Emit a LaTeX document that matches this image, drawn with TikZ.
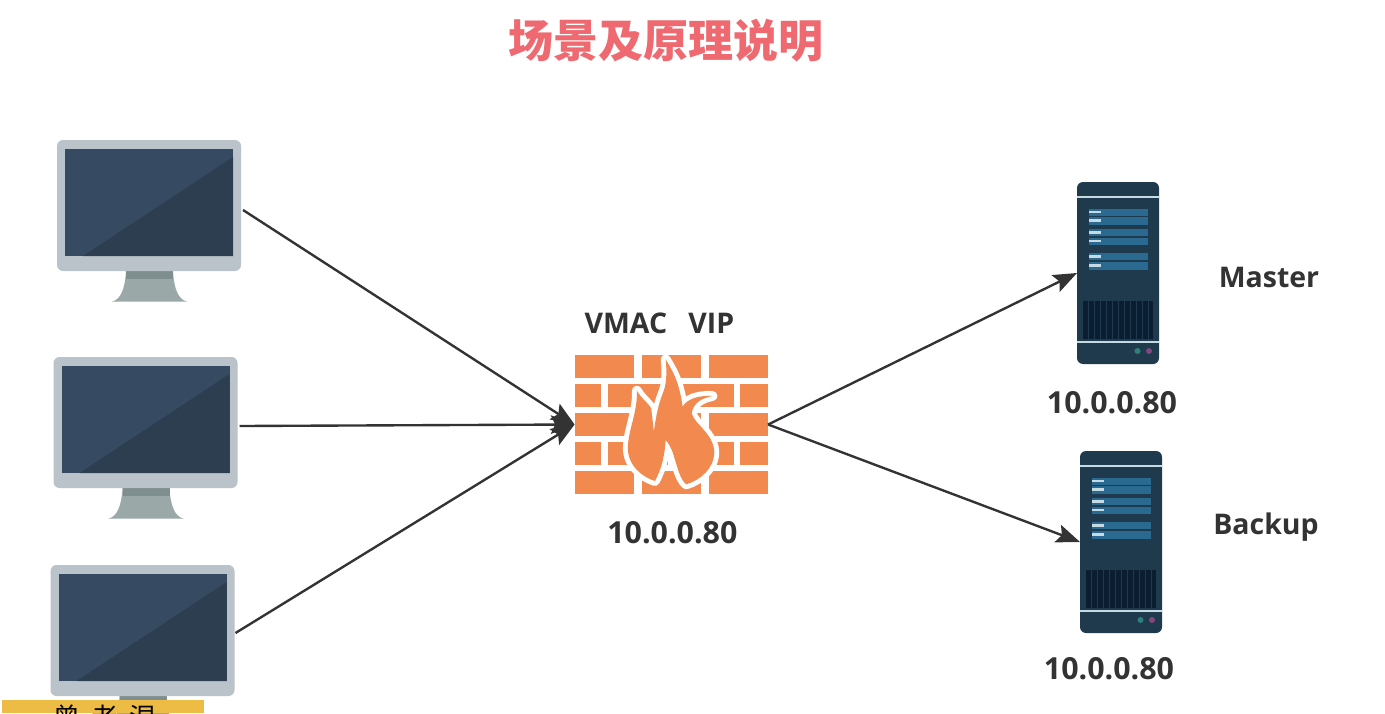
\documentclass[tikz,border=0pt]{standalone}
\usepackage{fontspec}
\setmainfont{Open Sans}
\newfontfamily\cjk{Noto Sans CJK SC}
\usetikzlibrary{arrows.meta}

\def\px{0.02cm}

\definecolor{bezelgray}{HTML}{B9C3C9}
\definecolor{screenlight}{HTML}{364B61}
\definecolor{screendark}{HTML}{2D3E50}
\definecolor{standgray}{HTML}{9AA8A8}
\definecolor{neckgray}{HTML}{7F8E8E}
\definecolor{serverbody}{HTML}{1F3A4D}
\definecolor{serverbar}{HTML}{2A6A90}
\definecolor{serverline}{HTML}{C6DAE4}
\definecolor{servervent}{HTML}{0B1D30}
\definecolor{ledteal}{HTML}{2F7F80}
\definecolor{ledpurple}{HTML}{84467F}
\definecolor{brickorange}{HTML}{F2894F}
\definecolor{titlered}{HTML}{EE6A70}
\definecolor{bannergold}{HTML}{EDBC45}
\definecolor{inkgray}{HTML}{333333}

\tikzset{
bezel/.style={fill=bezelgray,rounded corners=6*\px,inner sep=0pt,outer sep=0pt,minimum width=184*\px,minimum height=131*\px},
rackbody/.style={fill=serverbody,rounded corners=6*\px,inner sep=0pt,outer sep=0pt,minimum width=82*\px,minimum height=182*\px},
wallbox/.style={inner sep=0pt,outer sep=0pt,minimum width=193.5*\px,minimum height=139*\px},
link/.style={draw=inkgray,line width=1.35pt,-{Stealth[length=13.5pt,width=10.5pt,inset=2.5pt]}},
caption/.style={text=inkgray,font=\fontsize{16.2}{19}\selectfont\bfseries,inner sep=0pt},
ipcaption/.style={text=inkgray,font=\fontsize{17.3}{20}\selectfont\bfseries,inner sep=0pt}
}

% #1 name, #2 left edge, #3 top edge
\newcommand{\monitor}[3]{
\begin{scope}[shift={(#2,#3)}]
\fill[standgray] (69,131) -- (116,131) .. controls (117,150) and (122,160) .. (130,161.5) -- (55,161.5) .. controls (63,160) and (68,150) .. (69,131) -- cycle;
\fill[neckgray] (69,131) rectangle (116,139);
\node[bezel] (#1) at (92,65.5) {};
\fill[screenlight] (8,9) rectangle (176,116);
\fill[screendark] (26,116) -- (176,17) -- (176,116) -- cycle;
\end{scope}
}

% #1 name, #2 left edge, #3 top edge
\newcommand{\rack}[3]{
\begin{scope}[shift={(#2,#3)}]
\node[rackbody] (#1) at (41,91) {};
\fill[serverline] (0,13.8) rectangle (82,16.2);
\fill[serverline] (0,158.8) rectangle (82,161.2);
\foreach \rowtop/\rowbot in {26.5/33.5,35/42.5,47/54,55.5/62.5,71/78,80/87.5}{
\fill[serverbar] (12,\rowtop) rectangle (71,\rowbot);
\fill[serverline] (12,{(\rowtop+\rowbot)/2-1.3}) rectangle (24,{(\rowtop+\rowbot)/2+1.3});
}
\fill[servervent] (5.5,119) rectangle (75.5,157);
\foreach \ventx in {11,17,...,71}{
\draw[serverbody,line width=0.5pt] (\ventx,119) -- (\ventx,157);
}
\fill[ledteal] (60.5,169) circle (3);
\fill[ledpurple] (72,169) circle (3);
\end{scope}
}

\newcommand{\flamepath}{
(108,28) .. controls (125,60) and (145,90) .. (155,170)
.. controls (165,150) and (195,135) .. (238,138)
.. controls (205,145) and (185,160) .. (180,190)
.. controls (190,225) and (240,250) .. (243,305)
.. controls (243,355) and (205,390) .. (165,403)
.. controls (145,385) and (140,345) .. (125,300)
.. controls (118,285) and (113,275) .. (108,270)
.. controls (105,310) and (100,350) .. (78,393)
.. controls (40,380) and (3,345) .. (3,295)
.. controls (3,240) and (30,190) .. (28,122)
.. controls (40,145) and (60,160) .. (68,175)
-- (75,245)
.. controls (80,210) and (85,170) .. (100,130)
.. controls (110,105) and (112,70) .. (108,28) -- cycle
}

\begin{document}
\begin{tikzpicture}[x=0.02cm,y=-0.02cm]

\clip (0,0) rectangle (1385,713);
\fill[white] (0,0) rectangle (1385,713);

%%%%%%%%%%%%%%%%%%%%%%%%%%%%%%%%%%%%%%%%%%%%%%%%%%%%%%%%%%
% TITLE
%%%%%%%%%%%%%%%%%%%%%%%%%%%%%%%%%%%%%%%%%%%%%%%%%%%%%%%%%%

\node[
text=titlered,
inner sep=0pt,
font=\cjk\fontsize{25.6}{30}\selectfont\bfseries
](title) at (666,41) {场景及原理说明};

%%%%%%%%%%%%%%%%%%%%%%%%%%%%%%%%%%%%%%%%%%%%%%%%%%%%%%%%%%
% CLIENTS
%%%%%%%%%%%%%%%%%%%%%%%%%%%%%%%%%%%%%%%%%%%%%%%%%%%%%%%%%%

\monitor{pcone}{57}{140}
\monitor{pctwo}{53.5}{357}
\monitor{pcthree}{50.5}{565}

%%%%%%%%%%%%%%%%%%%%%%%%%%%%%%%%%%%%%%%%%%%%%%%%%%%%%%%%%%
% FIREWALL
%%%%%%%%%%%%%%%%%%%%%%%%%%%%%%%%%%%%%%%%%%%%%%%%%%%%%%%%%%

\node[wallbox](wall) at (671.35,424.5) {};

\foreach \rowtop/\rowbot in {355/378.3,413.3/436,471/494}{
\foreach \brickl/\brickr in {574.7/634,642/701,709/768}{
\fill[brickorange] (\brickl,\rowtop) rectangle (\brickr,\rowbot);
}
}
\foreach \rowtop/\rowbot in {384.3/407.3,441.7/465}{
\foreach \brickl/\brickr in {574.7/600.7,608.3/668,675/734,740/768}{
\fill[brickorange] (\brickl,\rowtop) rectangle (\brickr,\rowbot);
}
}

\begin{scope}[shift={(626.8,350)},x=0.0072cm,y=-0.02cm/3]
\fill[brickorange,preaction={draw=white,line width=5.6pt,line join=round}] \flamepath;
\end{scope}

\node[caption](vmac) at ([shift={(-45.5,-101)}]wall.center) {VMAC};
\node[caption](vip) at ([shift={(40,-101)}]wall.center) {VIP};
\node[ipcaption](wallip) at ([shift={(1,39)}]wall.south) {10.0.0.80};

%%%%%%%%%%%%%%%%%%%%%%%%%%%%%%%%%%%%%%%%%%%%%%%%%%%%%%%%%%
% SERVERS
%%%%%%%%%%%%%%%%%%%%%%%%%%%%%%%%%%%%%%%%%%%%%%%%%%%%%%%%%%

\rack{master}{1077}{182}
\rack{backup}{1080}{451}

\node[caption](masterlabel) at (1269,277) {Master};
\node[caption](backuplabel) at (1266,527) {Backup};
\node[ipcaption](masterip) at ([shift={(-6,39)}]master.south) {10.0.0.80};
\node[ipcaption](backupip) at ([shift={(-12,36)}]backup.south) {10.0.0.80};

%%%%%%%%%%%%%%%%%%%%%%%%%%%%%%%%%%%%%%%%%%%%%%%%%%%%%%%%%%
% CONNECTIONS
%%%%%%%%%%%%%%%%%%%%%%%%%%%%%%%%%%%%%%%%%%%%%%%%%%%%%%%%%%

\draw[link] ([shift={(2,4.5)}]pcone.east)--(wall.west);
\draw[link] ([shift={(2,3.5)}]pctwo.east)--(wall.west);
\draw[link] ([shift={(1,2.5)}]pcthree.east)--(wall.west);

\draw[link] (wall.east)--(master.west);
\draw[link] (wall.east)--(backup.west);

%%%%%%%%%%%%%%%%%%%%%%%%%%%%%%%%%%%%%%%%%%%%%%%%%%%%%%%%%%
% BANNER
%%%%%%%%%%%%%%%%%%%%%%%%%%%%%%%%%%%%%%%%%%%%%%%%%%%%%%%%%%

\fill[bannergold] (2,700) rectangle (204,713);
\node[
text=black,
inner sep=0pt,
font=\cjk\fontsize{15.2}{18}\selectfont
](banner) at (105,717.5) {曾\hspace{6.5pt}老\hspace{6.5pt}湿};

\end{tikzpicture}
\end{document}
